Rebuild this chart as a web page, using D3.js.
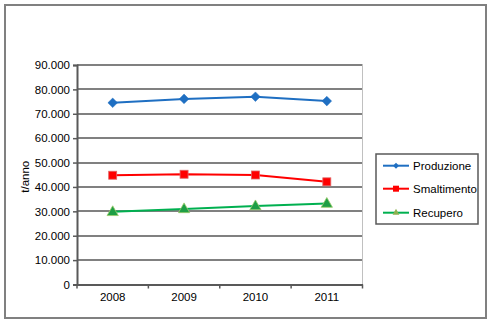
<!DOCTYPE html>
<html>
<head>
<meta charset="utf-8">
<script src="https://cdn.jsdelivr.net/npm/d3@7"></script>
<style>
  html, body { margin: 0; padding: 0; background: #fff; }
  svg { display: block; }
  text { font-family: "Liberation Sans", Arial, sans-serif; }
</style>
</head>
<body>
<script>
// Annual waste totals (t/anno) by year
const years = ["2008", "2009", "2010", "2011"];
const produzione = [74500, 76100, 77000, 75200];
const smaltimento = [44800, 45200, 44900, 42100];
const recupero = [29800, 31000, 32200, 33200];
const yTicks = [0, 10000, 20000, 30000, 40000, 50000, 60000, 70000, 80000, 90000];

const series = [
  { name: "Produzione", values: produzione, color: "#1F6FC2", marker: "diamond" },
  { name: "Smaltimento", values: smaltimento, color: "#FF0000", marker: "square" },
  { name: "Recupero", values: recupero, color: "#00B050", marker: "triangle" }
];

const W = 493, H = 326;
const plot = { left: 77, right: 362.5, top: 65, bottom: 284.5 };

const svg = d3.select("body").append("svg").attr("width", W).attr("height", H);

// chart frame
svg.append("rect")
  .attr("x", 5).attr("y", 5).attr("width", 481).attr("height", 313)
  .attr("fill", "#fff").attr("stroke", "#808080").attr("stroke-width", 2);

const x = d3.scaleBand().domain(years).range([plot.left, plot.right]);
const y = d3.scaleLinear().domain([0, 90000]).range([plot.bottom, plot.top]);

const fmt = v => d3.format(",")(v).replace(/,/g, ".");

// horizontal gridlines
svg.append("g").selectAll("line").data(yTicks.filter(d => d > 0)).join("line")
  .attr("x1", plot.left).attr("x2", plot.right)
  .attr("y1", d => Math.round(y(d))).attr("y2", d => Math.round(y(d)))
  .attr("stroke", "#808080").attr("stroke-width", 2);

// right edge of the plot area
svg.append("line")
  .attr("x1", plot.right).attr("x2", plot.right)
  .attr("y1", plot.top).attr("y2", plot.bottom)
  .attr("stroke", "#C0C0C0").attr("stroke-width", 1);

// y axis
const yAxis = d3.axisLeft(y).tickValues(yTicks).tickFormat(fmt).tickSize(4).tickPadding(3);
const gy = svg.append("g").attr("transform", `translate(${plot.left},0)`).call(yAxis);
gy.select(".domain").attr("stroke", "#595959").attr("stroke-width", 2);
gy.selectAll(".tick line").attr("stroke", "#595959").attr("stroke-width", 1.5);
gy.selectAll(".tick text").attr("font-size", 11.5).attr("fill", "#000")
  .style("font-family", "'Liberation Sans', Arial, sans-serif");

// x axis with ticks between categories
const xAxis = d3.axisBottom(x).tickSize(0).tickPadding(8);
const gx = svg.append("g").attr("transform", `translate(0,${plot.bottom})`).call(xAxis);
gx.select(".domain").attr("stroke", "#595959").attr("stroke-width", 2);
gx.selectAll(".tick text").attr("font-size", 11.5).attr("fill", "#000")
  .style("font-family", "'Liberation Sans', Arial, sans-serif");
const bounds = years.map(d => x(d)).concat([x(years[years.length - 1]) + x.bandwidth()]);
svg.append("g").selectAll("line").data(bounds).join("line")
  .attr("x1", d => d).attr("x2", d => d)
  .attr("y1", plot.bottom).attr("y2", plot.bottom + 4)
  .attr("stroke", "#595959").attr("stroke-width", 1.5);

// y axis title
svg.append("text")
  .attr("transform", `translate(29,${(plot.top + plot.bottom) / 2 + 2}) rotate(-90)`)
  .attr("text-anchor", "middle").attr("font-size", 11.5).text("t/anno");

const cx = d => x(d) + x.bandwidth() / 2;

// square-proportioned diamond of half-diagonal r
const diamondPath = r => `M0,${-r}L${r},0L0,${r}L${-r},0Z`;

function drawMarker(g, type, color, px, py) {
  if (type === "diamond") {
    g.append("path").attr("d", diamondPath(4.8))
      .attr("transform", `translate(${px},${py})`).attr("fill", color).attr("stroke", color).attr("stroke-width", 0.5);
  } else if (type === "square") {
    g.append("rect").attr("x", px - 4).attr("y", py - 4).attr("width", 8).attr("height", 8)
      .attr("fill", color).attr("stroke", "#E06666").attr("stroke-width", 0.8);
  } else {
    g.append("path").attr("d", d3.symbol(d3.symbolTriangle, 55)())
      .attr("transform", `translate(${px},${py + 0.5})`).attr("fill", "#1E9E45").attr("stroke", "#9BCB6A").attr("stroke-width", 0.8);
  }
}

// series lines and markers
const line = d3.line().x((d, i) => cx(years[i])).y(d => y(d));
series.forEach(s => {
  const g = svg.append("g");
  g.append("path").datum(s.values).attr("d", line)
    .attr("fill", "none").attr("stroke", s.color).attr("stroke-width", 2);
  s.values.forEach((v, i) => drawMarker(g, s.marker, s.color, cx(years[i]), y(v)));
});

// legend
const lg = svg.append("g");
lg.append("rect").attr("x", 376).attr("y", 154).attr("width", 102).attr("height", 70)
  .attr("fill", "#fff").attr("stroke", "#595959").attr("stroke-width", 1.5);
const legY = [165.7, 188.7, 212.7];
series.forEach((s, i) => {
  const ly = legY[i];
  lg.append("line").attr("x1", 383).attr("x2", 409).attr("y1", ly).attr("y2", ly)
    .attr("stroke", s.color).attr("stroke-width", 2);
  if (s.marker === "diamond") {
    lg.append("path").attr("d", diamondPath(3))
      .attr("transform", `translate(396,${ly})`).attr("fill", s.color);
  } else if (s.marker === "square") {
    lg.append("rect").attr("x", 393).attr("y", ly - 3).attr("width", 6).attr("height", 6).attr("fill", s.color);
  } else {
    lg.append("path").attr("d", d3.symbol(d3.symbolTriangle, 20)())
      .attr("transform", `translate(396,${ly})`).attr("fill", "#8DB050");
  }
  lg.append("text").attr("x", 413).attr("y", ly + 4).attr("font-size", 11.5).text(s.name);
});
</script>
</body>
</html>
